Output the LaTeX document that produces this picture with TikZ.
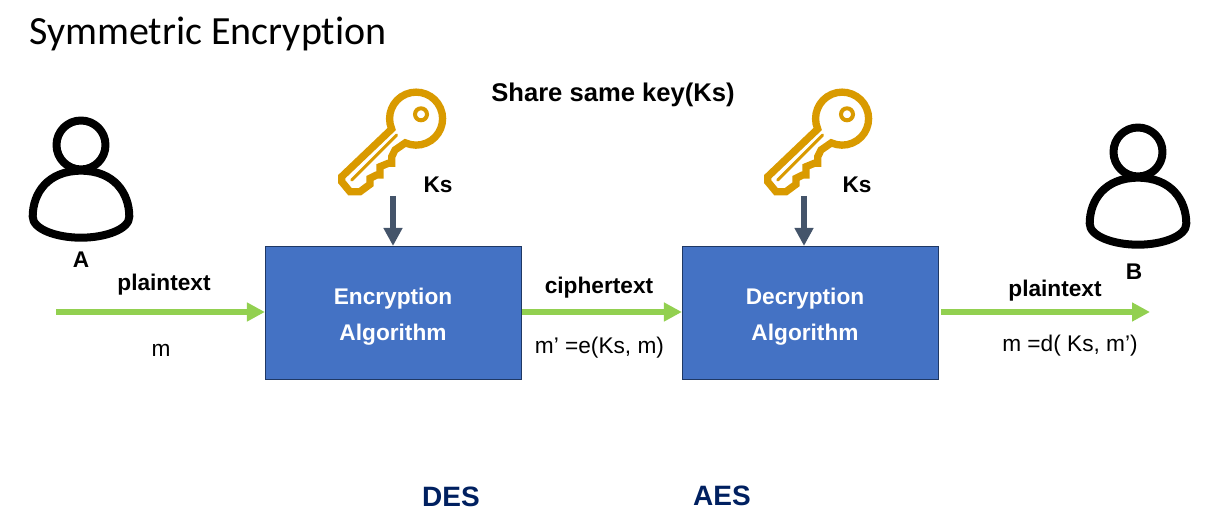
\documentclass[tikz,border=0pt]{standalone}
\usepackage{fontspec}
\setmainfont{Liberation Sans}
\newfontfamily\titlefont[Ligatures=NoCommon]{Carlito}
\usetikzlibrary{arrows.meta}
\definecolor{boxblue}{HTML}{4472C4}
\definecolor{boxedge}{HTML}{1F3864}
\definecolor{keygold}{HTML}{D99A00}
\definecolor{arrowgreen}{HTML}{92D050}
\definecolor{arrowslate}{HTML}{44546A}
\definecolor{navy}{HTML}{002060}
\tikzset{
  x=0.75pt,y=-0.75pt,
  algbox/.style={draw=boxedge,line width=0.9pt,fill=boxblue,minimum width=192pt,minimum height=100pt,inner sep=0pt},
  algtext/.style={text=white,font=\fontsize{17}{27}\selectfont\bfseries,align=center,inner sep=0pt},
  lbl/.style={font=\fontsize{17}{20}\selectfont,text=black,inner sep=0pt},
  lblb/.style={font=\fontsize{17}{20}\selectfont\bfseries,text=black,inner sep=0pt},
  greenarrow/.style={draw=arrowgreen,line width=4.8pt,-{Triangle[length=13.5pt,width=13.5pt]}},
  slatearrow/.style={draw=arrowslate,line width=4.5pt,-{Triangle[length=13.5pt,width=13.5pt]}},
  algo/.style={font=\fontsize{21}{25}\selectfont\bfseries,text=navy,inner sep=0pt},
  keyline/.style={draw=keygold,line width=5.5pt,line join=miter,line cap=round},
  personline/.style={draw=black,line width=6pt,line join=round},
  keyicon/.pic={
    \draw[keyline] (-24,10) arc[start angle=157,end angle=474,radius=26.5]
      -- (-20.7,31) -- (-24,37.7) -- (-24,44.3) -- (-27.4,44.3) -- (-35.7,47.7) -- (-35.7,56) -- (-39,56) -- (-45.7,59.3) -- (-45.7,65.3) -- (-55.7,72.7) -- (-65.7,72.7) -- (-74,62.7) -- (-74,57.7) -- cycle;
    \draw[draw=keygold,line width=3pt] (5.3,-4.7) circle[radius=6];
    \draw[draw=keygold,line width=2.2pt,line cap=round] (-19,16) -- (-64,61);
  },
  person/.pic={
    \draw[personline] (0,0) circle[radius=24.5];
    \draw[personline] (0,25.7) .. controls (-33,25.7) and (-48.3,48) .. (-48.3,71.7) .. controls (-48.3,84) and (-25,92.7) .. (0,92.7) .. controls (25,92.7) and (48.3,84) .. (48.3,71.7) .. controls (48.3,48) and (33,25.7) .. (0,25.7) -- cycle;
  }
}
\begin{document}
\begin{tikzpicture}
\useasboundingbox (0,0) rectangle (1221,523);
\node[anchor=west,font=\fontsize{30}{36}\selectfont\titlefont,inner sep=0pt] (title) at (29,34) {Symmetric Encryption};
\node[lblb,font=\fontsize{19.2}{23}\selectfont\bfseries] (share) at (613,95) {Share same key(Ks)};

\pic at (81,145) {person};
\pic at (1138,152) {person};
\pic at (415.7,119) {keyicon};
\pic at (841.7,119) {keyicon};

\node[lblb] (labelA) at (81,260) {A};
\node[lblb] (labelB) at (1134,272) {B};
\node[lblb] (ks1) at (438,185) {Ks};
\node[lblb] (ks2) at (857,185) {Ks};

\node[algbox] (enc) at (393.5,313.2) {};
\node[algbox] (dec) at (810.5,313.2) {};
\node[algtext] (enctext) at (393,317) {Encryption\\Algorithm};
\node[algtext] (dectext) at (805,317) {Decryption\\Algorithm};

\coordinate (inA) at (56,312);
\coordinate (outB) at (1150,312);
\coordinate (key1) at (393,196);
\coordinate (key2) at (804,196);

\draw[greenarrow] (inA) -- (enc.west |- inA);
\draw[greenarrow] (enc.east |- inA) -- (dec.west |- inA);
\draw[greenarrow] (dec.east |- inA) ++(2,0) -- (outB);
\draw[slatearrow] (key1) -- (key1 |- enc.north);
\draw[slatearrow] (key2) -- (key2 |- dec.north);

\node[lblb] (pt1) at (164,285) {plaintext};
\node[lbl] (m1) at (161,350) {m};
\node[lblb] (ct) at (599,288) {ciphertext};
\node[lbl] (m2) at (599.5,348) {m’ =e(Ks, m)};
\node[lblb] (pt2) at (1055,291) {plaintext};
\node[lbl] (m3) at (1070,346) {m =d( Ks, m’)};

\node[algo] (des) at (451,497) {DES};
\node[algo] (aes) at (722,496) {AES};
\end{tikzpicture}
\end{document}
